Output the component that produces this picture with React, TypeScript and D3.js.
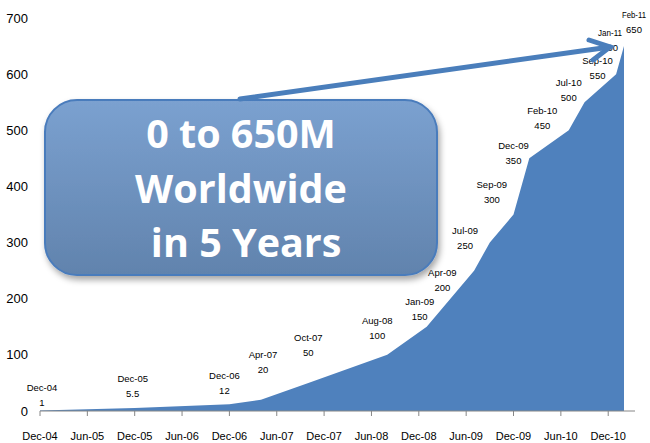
import React from "react";
import * as d3 from "d3";

// ---- data ----
const dates = ["Dec-04","Dec-05","Dec-06","Apr-07","Oct-07","Aug-08","Jan-09","Apr-09","Jul-09","Sep-09","Dec-09","Feb-10","Jul-10","Sep-10","Jan-11","Feb-11"];
const monthsFromStart = [0,12,24,28,34,44,49,52,55,57,60,62,67,69,73,74];
const users = [1,5.5,12,20,50,100,150,200,250,300,350,450,500,550,600,650];
const valueLabels = ["1","5.5","12","20","50","100","150","200","250","300","350","450","500","550","600","650"];
const xTickLabels = ["Dec-04","Jun-05","Dec-05","Jun-06","Dec-06","Jun-07","Dec-07","Jun-08","Dec-08","Jun-09","Dec-09","Jun-10","Dec-10"];
const xTickMonths = [0,6,12,18,24,30,36,42,48,54,60,66,72];
const yTicks = [0,100,200,300,400,500,600,700];
const calloutLines = ["0 to 650M", "Worldwide", " in 5 Years"];

// ---- layout (label nudges relative to each point) ----
const labelNudge: [number, number][] = [
  [2,-8],[-2,-14],[-5,-14],[2,-30],[0,-30],[-10,-19],[-7,-10],[-8,-11],
  [-9,-25],[2,-43],[0,-54],[13,-33],[0,-33],[13,-27],[-6,-26],[10,-16]
];

const W = 650, H = 443;
const FONT = "'Liberation Sans Narrow', 'Liberation Sans', Arial, sans-serif";

export default function App() {
  const x = d3.scaleLinear().domain([0, 74]).range([40, 624]);
  const y = d3.scaleLinear().domain([0, 700]).range([411, 18]);
  const pts = monthsFromStart.map((m, i) => ({ m, v: users[i] }));
  const area = d3.area<{ m: number; v: number }>()
    .x(d => x(d.m)).y0(y(0)).y1(d => y(d.v)).curve(d3.curveLinear);

  const arrowStart: [number, number] = [240, 99];
  const arrowEnd: [number, number] = [610, 47];

  return (
    <svg width={W} height={H} style={{ position: "absolute", left: 0, top: 0, background: "#fff" }}>
      <defs>
        <linearGradient id="boxg" x1="0" y1="0" x2="0" y2="1">
          <stop offset="0" stopColor="#7ba1d0" />
          <stop offset="1" stopColor="#6183ad" />
        </linearGradient>
        <filter id="shadow" x="-10%" y="-10%" width="125%" height="130%">
          <feDropShadow dx="2" dy="4" stdDeviation="3" floodColor="#000" floodOpacity="0.35" />
        </filter>
      </defs>

      {/* y tick labels */}
      {yTicks.map(t => (
        <text key={t} x={28} y={y(t)} dy="0.35em" textAnchor="end" fontSize={13} fontFamily={FONT} fill="#000">{t}</text>
      ))}

      {/* area */}
      <path d={area(pts) || ""} fill="#4f81bd" />

      {/* x axis */}
      <line x1={40} x2={635} y1={y(0)} y2={y(0)} stroke="#868686" strokeWidth={1} />
      {xTickMonths.map((m, i) => (
        <g key={m}>
          <line x1={x(m)} x2={x(m)} y1={y(0)} y2={y(0) + 5} stroke="#868686" />
          <text x={x(m)} y={436} dy="0.35em" textAnchor="middle" fontSize={11} fontFamily={FONT}>{xTickLabels[i]}</text>
        </g>
      ))}

      {/* data labels */}
      {pts.map((p, i) => {
        const lx = x(p.m) + labelNudge[i][0];
        const ly = y(p.v) + labelNudge[i][1];
        return (
          <g key={dates[i]} fontSize={9.5} fontFamily={FONT} textAnchor="middle">
            <text x={lx} y={ly - 15} dy="0.35em" textLength={i >= 14 ? 24 : undefined} lengthAdjust="spacingAndGlyphs">{dates[i]}</text>
            <text x={lx} y={ly} dy="0.35em">{valueLabels[i]}</text>
          </g>
        );
      })}

      {/* callout box */}
      <rect x={45} y={100} width={392} height={175} rx={32} ry={32}
        fill="url(#boxg)" stroke="#4a7cbc" strokeWidth={2} filter="url(#shadow)" />
      {calloutLines.map((t, i) => (
        <text key={i} x={241} y={148 + i * 54.5} textAnchor="middle" fill="#fff"
          fontFamily="'Open Sans', sans-serif" fontWeight={700} fontSize={39.5}
          style={{ whiteSpace: "pre" }}>{t}</text>
      ))}

      {/* arrow */}
      <g stroke="#4a7ebb" strokeWidth={5} strokeLinecap="round" fill="none">
        <line x1={arrowStart[0]} y1={arrowStart[1]} x2={arrowEnd[0]} y2={arrowEnd[1]} />
        <polyline points={`${arrowEnd[0] - 21},${arrowEnd[1] - 7} ${arrowEnd[0]},${arrowEnd[1]} ${arrowEnd[0] - 17},${arrowEnd[1] + 13}`} strokeLinejoin="miter" />
      </g>
    </svg>
  );
}
